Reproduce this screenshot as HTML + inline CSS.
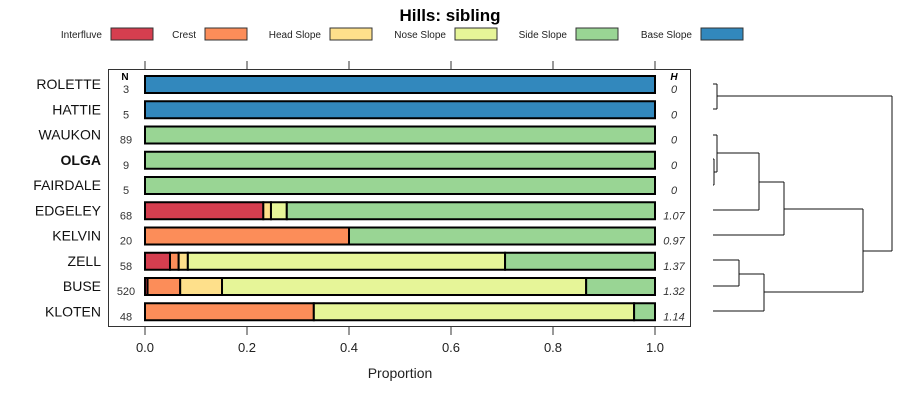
<!DOCTYPE html>
<html><head><meta charset="utf-8"><style>
body{margin:0;background:#fff;}
svg{display:block;font-family:"Liberation Sans",sans-serif;}
</style></head><body>
<svg id="c" width="900" height="400" xmlns="http://www.w3.org/2000/svg"></svg>
<script>
const categories=["ROLETTE","HATTIE","WAUKON","OLGA","FAIRDALE","EDGELEY","KELVIN","ZELL","BUSE","KLOTEN"];
const counts=["3","5","89","9","5","68","20","58","520","48"];
const entropy=["0","0","0","0","0","1.07","0.97","1.37","1.32","1.14"];
const classes=["Interfluve","Crest","Head Slope","Nose Slope","Side Slope","Base Slope"];
const colors=["#D53E4F","#FC8D59","#FEE08B","#E6F598","#99D594","#3288BD"];
const interfluve=[0,0,0,0,0,0.232,0,0.049,0.005,0];
const crest=[0,0,0,0,0,0,0.40,0.017,0.064,0.331];
const headSlope=[0,0,0,0,0,0.015,0,0.018,0.082,0];
const noseSlope=[0,0,0,0,0,0.031,0,0.622,0.714,0.628];
const sideSlope=[0,0,1,1,1,0.722,0.60,0.294,0.135,0.041];
const baseSlope=[1,1,0,0,0,0,0,0,0,0];
const ticks=[0,0.2,0.4,0.6,0.8,1.0];
const tickLabels=["0.0","0.2","0.4","0.6","0.8","1.0"];

const svg=document.getElementById('c');
const NS="http://www.w3.org/2000/svg";
function mk(tag,attrs,text){const e=document.createElementNS(NS,tag);for(const k in attrs)e.setAttribute(k,attrs[k]);if(text!==undefined)e.textContent=text;svg.appendChild(e);return e;}
const x=v=>145+v*510;
const y=i=>84+i*25.25;

let t=mk('text',{x:450,y:21,'text-anchor':'middle','font-size':17,'font-weight':'bold'},'Hills: sibling');



const legX=[102,196,321,446,567,692];
classes.forEach((c,k)=>{
  let lt=mk('text',{x:legX[k],y:38,'text-anchor':'end','font-size':10,fill:'#222'},c);
  
  
  let r=mk('rect',{x:legX[k]+9,y:28,width:42,height:12,fill:colors[k],stroke:'#333','stroke-width':1});
  
  
});

let fr=mk('rect',{x:108.5,y:69.5,width:582,height:257,fill:'none',stroke:'#333','stroke-width':1});



ticks.forEach((v,k)=>{
  let a=mk('line',{x1:x(v),x2:x(v),y1:61,y2:69,stroke:'#333'});
  
  
  let b=mk('line',{x1:x(v),x2:x(v),y1:327,y2:335,stroke:'#333'});
  
  
  let l=mk('text',{x:x(v),y:352,'text-anchor':'middle','font-size':13,fill:'#222'},tickLabels[k]);
  
  
});
let xt=mk('text',{x:400,y:378,'text-anchor':'middle','font-size':14,fill:'#222'},'Proportion');



let nh=mk('text',{x:125,y:80,'text-anchor':'middle','font-size':10,'font-weight':'bold'},'N');


let hh=mk('text',{x:674,y:80,'text-anchor':'middle','font-size':10,'font-weight':'bold','font-style':'italic'},'H');



const series=[interfluve,crest,headSlope,noseSlope,sideSlope,baseSlope];
categories.forEach((c,i)=>{
  let lab=mk('text',{x:101,y:y(i)+5,'text-anchor':'end','font-size':14,'font-weight':c==='OLGA'?'bold':'normal',fill:'#111'},c);
  
  
  let n=mk('text',{x:126,y:y(i)+(i===0?9:9),'text-anchor':'middle','font-size':11,fill:'#333'},counts[i]);
  
  
  let h=mk('text',{x:674,y:y(i)+9,'text-anchor':'middle','font-size':11,'font-style':'italic',fill:'#333'},entropy[i]);
  
  
  let cum=0;
  series.forEach((s,k)=>{
    const v=s[i];
    if(v>0){
      let r=mk('rect',{x:x(cum),y:y(i)-8,width:x(cum+v)-x(cum),height:17,fill:colors[k],stroke:'#000','stroke-width':2});
      
      
    }
    cum+=v;
  });
});

// dendrogram
const segs=[
 [713,84,717,84],[717,84,717,109],[713,109,717,109],[717,96,892,96],
 [713,159,714,159],[714,159,714,185],[713,185,714,185],
 [713,135,717,135],[717,135,717,172],[714,172,717,172],[717,153,759,153],
 [713,210,759,210],[759,153,759,210],[759,182,784,182],
 [713,235,784,235],[784,182,784,235],[784,209,863,209],
 [713,260,739,260],[713,286,739,286],[739,260,739,286],[739,274,764,274],
 [713,311,764,311],[764,274,764,311],[764,292,863,292],
 [863,209,863,292],[863,251,892,251],[892,96,892,251]
];
segs.forEach(s=>{
  let l=mk('line',{x1:s[0],y1:s[1],x2:s[2],y2:s[3],stroke:'#111','stroke-width':1});
  
  
});
</script>
</body></html>
